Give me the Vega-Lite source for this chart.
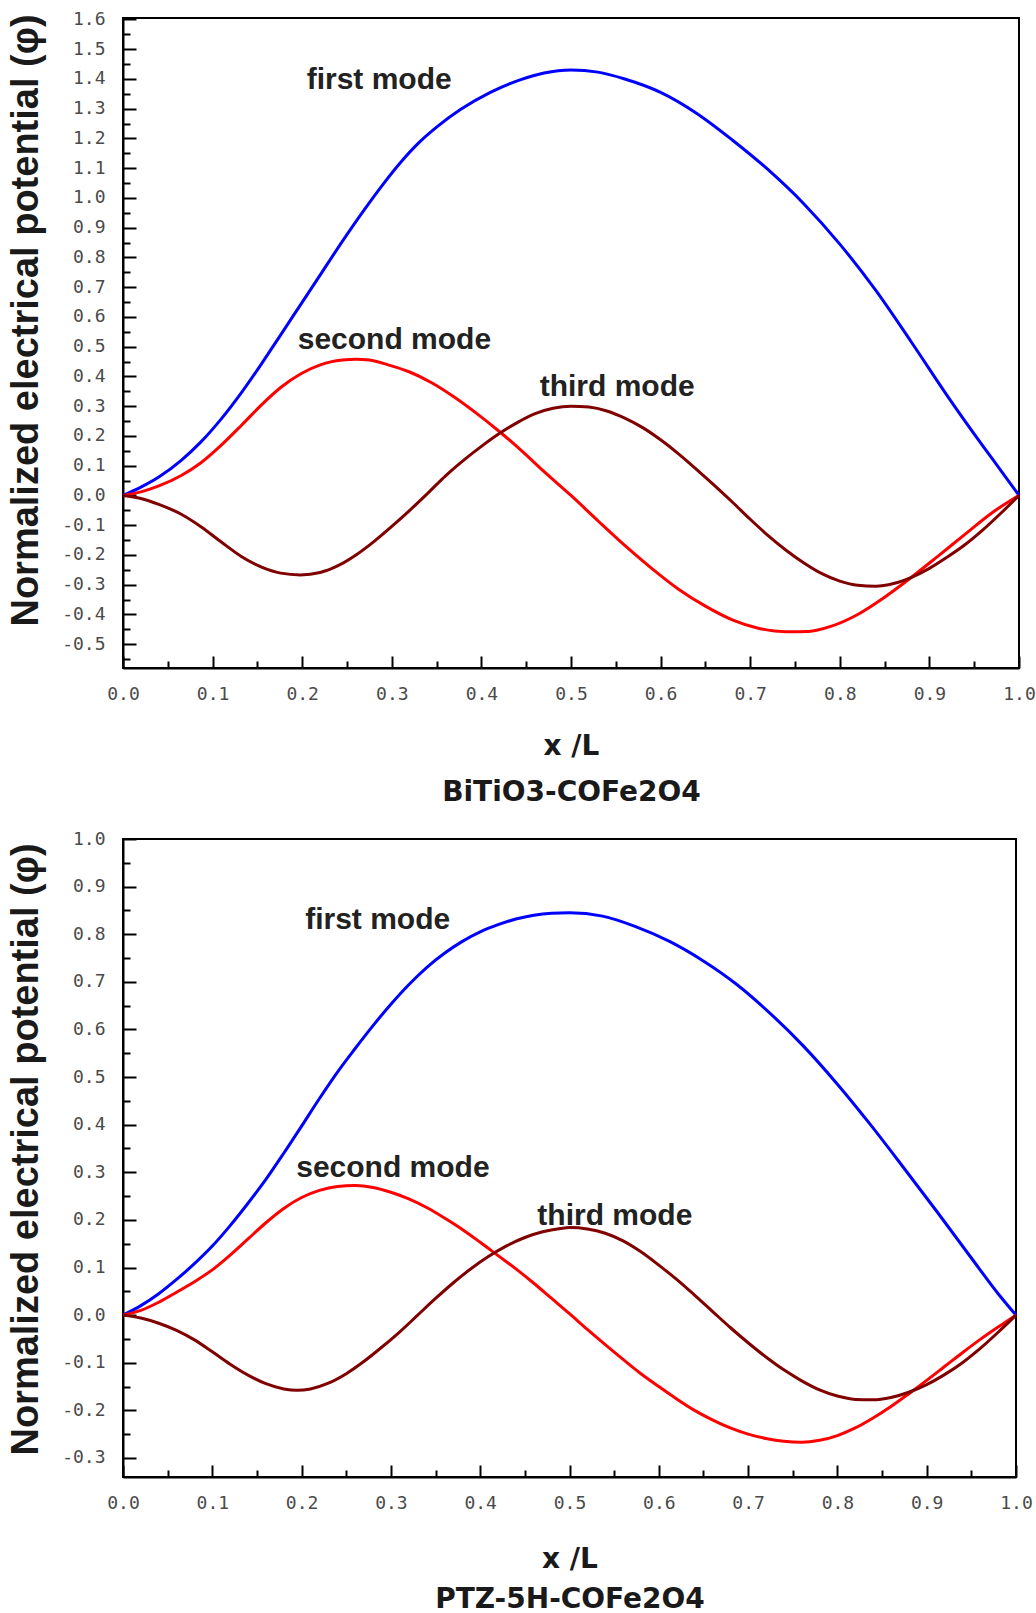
{
  "$schema": "https://vega.github.io/schema/vega-lite/v6.json",
  "background": "white",
  "padding": {"left": 6, "top": 9, "right": 0, "bottom": 0},
  "config": {
    "view": {"stroke": "black", "strokeWidth": 2},
    "concat": {"spacing": 22},
    "axis": {
      "grid": false,
      "domainColor": "black",
      "domainWidth": 2,
      "tickColor": "black",
      "tickWidth": 2,
      "labelFont": "DejaVu Sans Mono",
      "labelFontSize": 18,
      "labelColor": "#4a4a4a",
      "labelOverlap": false,
      "labelFlush": false,
      "titleFont": "Liberation Sans",
      "titleFontWeight": "bold",
      "titleColor": "#1a1a1a"
    }
  },
  "datasets": {
    "top": [
      {"x":0,"v":0,"m":"first"},{"x":0.02,"v":0.028,"m":"first"},{"x":0.04,"v":0.062,"m":"first"},{"x":0.065,"v":0.118,"m":"first"},{"x":0.087,"v":0.18,"m":"first"},{"x":0.109,"v":0.255,"m":"first"},{"x":0.132,"v":0.345,"m":"first"},{"x":0.154,"v":0.44,"m":"first"},{"x":0.176,"v":0.54,"m":"first"},{"x":0.199,"v":0.645,"m":"first"},{"x":0.222,"v":0.75,"m":"first"},{"x":0.245,"v":0.855,"m":"first"},{"x":0.268,"v":0.955,"m":"first"},{"x":0.29,"v":1.045,"m":"first"},{"x":0.31,"v":1.12,"m":"first"},{"x":0.33,"v":1.185,"m":"first"},{"x":0.35,"v":1.238,"m":"first"},{"x":0.377,"v":1.298,"m":"first"},{"x":0.41,"v":1.355,"m":"first"},{"x":0.444,"v":1.398,"m":"first"},{"x":0.47,"v":1.42,"m":"first"},{"x":0.5,"v":1.43,"m":"first"},{"x":0.53,"v":1.423,"m":"first"},{"x":0.56,"v":1.4,"m":"first"},{"x":0.6,"v":1.355,"m":"first"},{"x":0.64,"v":1.285,"m":"first"},{"x":0.68,"v":1.195,"m":"first"},{"x":0.72,"v":1.095,"m":"first"},{"x":0.76,"v":0.98,"m":"first"},{"x":0.8,"v":0.845,"m":"first"},{"x":0.84,"v":0.69,"m":"first"},{"x":0.88,"v":0.515,"m":"first"},{"x":0.92,"v":0.335,"m":"first"},{"x":0.96,"v":0.165,"m":"first"},{"x":0.98,"v":0.083,"m":"first"},{"x":1,"v":0,"m":"first"},
      {"x":0,"v":0,"m":"second"},{"x":0.02,"v":0.012,"m":"second"},{"x":0.04,"v":0.032,"m":"second"},{"x":0.065,"v":0.067,"m":"second"},{"x":0.087,"v":0.11,"m":"second"},{"x":0.11,"v":0.17,"m":"second"},{"x":0.132,"v":0.235,"m":"second"},{"x":0.154,"v":0.303,"m":"second"},{"x":0.176,"v":0.363,"m":"second"},{"x":0.199,"v":0.41,"m":"second"},{"x":0.221,"v":0.44,"m":"second"},{"x":0.245,"v":0.455,"m":"second"},{"x":0.26,"v":0.458,"m":"second"},{"x":0.275,"v":0.455,"m":"second"},{"x":0.295,"v":0.44,"m":"second"},{"x":0.32,"v":0.415,"m":"second"},{"x":0.345,"v":0.378,"m":"second"},{"x":0.37,"v":0.33,"m":"second"},{"x":0.395,"v":0.275,"m":"second"},{"x":0.42,"v":0.215,"m":"second"},{"x":0.445,"v":0.15,"m":"second"},{"x":0.47,"v":0.08,"m":"second"},{"x":0.5,"v":0,"m":"second"},{"x":0.53,"v":-0.085,"m":"second"},{"x":0.56,"v":-0.168,"m":"second"},{"x":0.59,"v":-0.245,"m":"second"},{"x":0.62,"v":-0.315,"m":"second"},{"x":0.65,"v":-0.372,"m":"second"},{"x":0.68,"v":-0.418,"m":"second"},{"x":0.71,"v":-0.447,"m":"second"},{"x":0.74,"v":-0.458,"m":"second"},{"x":0.765,"v":-0.457,"m":"second"},{"x":0.79,"v":-0.44,"m":"second"},{"x":0.82,"v":-0.4,"m":"second"},{"x":0.85,"v":-0.342,"m":"second"},{"x":0.88,"v":-0.275,"m":"second"},{"x":0.91,"v":-0.203,"m":"second"},{"x":0.94,"v":-0.13,"m":"second"},{"x":0.97,"v":-0.058,"m":"second"},{"x":1,"v":0,"m":"second"},
      {"x":0,"v":0,"m":"third"},{"x":0.02,"v":-0.01,"m":"third"},{"x":0.04,"v":-0.03,"m":"third"},{"x":0.065,"v":-0.063,"m":"third"},{"x":0.087,"v":-0.105,"m":"third"},{"x":0.109,"v":-0.155,"m":"third"},{"x":0.132,"v":-0.205,"m":"third"},{"x":0.154,"v":-0.24,"m":"third"},{"x":0.176,"v":-0.261,"m":"third"},{"x":0.198,"v":-0.267,"m":"third"},{"x":0.22,"v":-0.259,"m":"third"},{"x":0.24,"v":-0.236,"m":"third"},{"x":0.26,"v":-0.2,"m":"third"},{"x":0.28,"v":-0.155,"m":"third"},{"x":0.3,"v":-0.104,"m":"third"},{"x":0.32,"v":-0.05,"m":"third"},{"x":0.34,"v":0.007,"m":"third"},{"x":0.36,"v":0.066,"m":"third"},{"x":0.38,"v":0.118,"m":"third"},{"x":0.4,"v":0.165,"m":"third"},{"x":0.42,"v":0.208,"m":"third"},{"x":0.44,"v":0.245,"m":"third"},{"x":0.46,"v":0.275,"m":"third"},{"x":0.48,"v":0.293,"m":"third"},{"x":0.5,"v":0.3,"m":"third"},{"x":0.52,"v":0.297,"m":"third"},{"x":0.54,"v":0.284,"m":"third"},{"x":0.56,"v":0.26,"m":"third"},{"x":0.58,"v":0.228,"m":"third"},{"x":0.6,"v":0.187,"m":"third"},{"x":0.62,"v":0.14,"m":"third"},{"x":0.64,"v":0.088,"m":"third"},{"x":0.66,"v":0.034,"m":"third"},{"x":0.68,"v":-0.022,"m":"third"},{"x":0.7,"v":-0.08,"m":"third"},{"x":0.72,"v":-0.135,"m":"third"},{"x":0.74,"v":-0.184,"m":"third"},{"x":0.76,"v":-0.227,"m":"third"},{"x":0.78,"v":-0.263,"m":"third"},{"x":0.8,"v":-0.288,"m":"third"},{"x":0.82,"v":-0.302,"m":"third"},{"x":0.84,"v":-0.305,"m":"third"},{"x":0.86,"v":-0.296,"m":"third"},{"x":0.88,"v":-0.275,"m":"third"},{"x":0.9,"v":-0.245,"m":"third"},{"x":0.92,"v":-0.207,"m":"third"},{"x":0.94,"v":-0.165,"m":"third"},{"x":0.96,"v":-0.115,"m":"third"},{"x":0.98,"v":-0.059,"m":"third"},{"x":1,"v":0,"m":"third"}
    ],
    "topLabels": [
      {"x":0.205,"v":1.397,"t":"first mode"},
      {"x":0.195,"v":0.524,"t":"second mode"},
      {"x":0.465,"v":0.364,"t":"third mode"}
    ],
    "bottom": [
      {"x":0,"v":0,"m":"first"},{"x":0.02,"v":0.02,"m":"first"},{"x":0.04,"v":0.045,"m":"first"},{"x":0.06,"v":0.075,"m":"first"},{"x":0.08,"v":0.108,"m":"first"},{"x":0.1,"v":0.145,"m":"first"},{"x":0.12,"v":0.188,"m":"first"},{"x":0.14,"v":0.235,"m":"first"},{"x":0.16,"v":0.285,"m":"first"},{"x":0.18,"v":0.34,"m":"first"},{"x":0.2,"v":0.397,"m":"first"},{"x":0.22,"v":0.455,"m":"first"},{"x":0.24,"v":0.51,"m":"first"},{"x":0.26,"v":0.56,"m":"first"},{"x":0.28,"v":0.608,"m":"first"},{"x":0.3,"v":0.653,"m":"first"},{"x":0.32,"v":0.694,"m":"first"},{"x":0.34,"v":0.73,"m":"first"},{"x":0.36,"v":0.76,"m":"first"},{"x":0.38,"v":0.785,"m":"first"},{"x":0.4,"v":0.805,"m":"first"},{"x":0.42,"v":0.82,"m":"first"},{"x":0.44,"v":0.832,"m":"first"},{"x":0.46,"v":0.84,"m":"first"},{"x":0.48,"v":0.844,"m":"first"},{"x":0.5,"v":0.845,"m":"first"},{"x":0.537,"v":0.838,"m":"first"},{"x":0.574,"v":0.816,"m":"first"},{"x":0.612,"v":0.785,"m":"first"},{"x":0.649,"v":0.745,"m":"first"},{"x":0.687,"v":0.695,"m":"first"},{"x":0.724,"v":0.635,"m":"first"},{"x":0.762,"v":0.565,"m":"first"},{"x":0.8,"v":0.485,"m":"first"},{"x":0.837,"v":0.4,"m":"first"},{"x":0.874,"v":0.31,"m":"first"},{"x":0.912,"v":0.216,"m":"first"},{"x":0.95,"v":0.12,"m":"first"},{"x":0.98,"v":0.045,"m":"first"},{"x":1,"v":0,"m":"first"},
      {"x":0,"v":0,"m":"second"},{"x":0.02,"v":0.01,"m":"second"},{"x":0.04,"v":0.027,"m":"second"},{"x":0.06,"v":0.048,"m":"second"},{"x":0.08,"v":0.07,"m":"second"},{"x":0.1,"v":0.095,"m":"second"},{"x":0.12,"v":0.126,"m":"second"},{"x":0.14,"v":0.16,"m":"second"},{"x":0.16,"v":0.194,"m":"second"},{"x":0.18,"v":0.224,"m":"second"},{"x":0.2,"v":0.247,"m":"second"},{"x":0.22,"v":0.262,"m":"second"},{"x":0.24,"v":0.27,"m":"second"},{"x":0.26,"v":0.272,"m":"second"},{"x":0.28,"v":0.268,"m":"second"},{"x":0.3,"v":0.258,"m":"second"},{"x":0.32,"v":0.244,"m":"second"},{"x":0.34,"v":0.226,"m":"second"},{"x":0.36,"v":0.204,"m":"second"},{"x":0.38,"v":0.18,"m":"second"},{"x":0.4,"v":0.153,"m":"second"},{"x":0.42,"v":0.125,"m":"second"},{"x":0.44,"v":0.097,"m":"second"},{"x":0.46,"v":0.067,"m":"second"},{"x":0.48,"v":0.035,"m":"second"},{"x":0.5,"v":0.003,"m":"second"},{"x":0.52,"v":-0.03,"m":"second"},{"x":0.54,"v":-0.062,"m":"second"},{"x":0.56,"v":-0.093,"m":"second"},{"x":0.58,"v":-0.123,"m":"second"},{"x":0.6,"v":-0.15,"m":"second"},{"x":0.62,"v":-0.176,"m":"second"},{"x":0.64,"v":-0.2,"m":"second"},{"x":0.66,"v":-0.22,"m":"second"},{"x":0.68,"v":-0.237,"m":"second"},{"x":0.7,"v":-0.25,"m":"second"},{"x":0.72,"v":-0.259,"m":"second"},{"x":0.74,"v":-0.265,"m":"second"},{"x":0.76,"v":-0.267,"m":"second"},{"x":0.78,"v":-0.263,"m":"second"},{"x":0.8,"v":-0.253,"m":"second"},{"x":0.82,"v":-0.237,"m":"second"},{"x":0.84,"v":-0.216,"m":"second"},{"x":0.86,"v":-0.192,"m":"second"},{"x":0.88,"v":-0.165,"m":"second"},{"x":0.9,"v":-0.137,"m":"second"},{"x":0.92,"v":-0.108,"m":"second"},{"x":0.94,"v":-0.079,"m":"second"},{"x":0.96,"v":-0.051,"m":"second"},{"x":0.98,"v":-0.025,"m":"second"},{"x":1,"v":0,"m":"second"},
      {"x":0,"v":0,"m":"third"},{"x":0.02,"v":-0.006,"m":"third"},{"x":0.04,"v":-0.017,"m":"third"},{"x":0.06,"v":-0.032,"m":"third"},{"x":0.08,"v":-0.052,"m":"third"},{"x":0.1,"v":-0.077,"m":"third"},{"x":0.12,"v":-0.103,"m":"third"},{"x":0.14,"v":-0.126,"m":"third"},{"x":0.16,"v":-0.144,"m":"third"},{"x":0.18,"v":-0.155,"m":"third"},{"x":0.195,"v":-0.158,"m":"third"},{"x":0.21,"v":-0.155,"m":"third"},{"x":0.23,"v":-0.143,"m":"third"},{"x":0.25,"v":-0.123,"m":"third"},{"x":0.27,"v":-0.097,"m":"third"},{"x":0.29,"v":-0.067,"m":"third"},{"x":0.31,"v":-0.035,"m":"third"},{"x":0.33,"v":0,"m":"third"},{"x":0.35,"v":0.035,"m":"third"},{"x":0.37,"v":0.068,"m":"third"},{"x":0.39,"v":0.098,"m":"third"},{"x":0.41,"v":0.124,"m":"third"},{"x":0.43,"v":0.146,"m":"third"},{"x":0.45,"v":0.163,"m":"third"},{"x":0.47,"v":0.175,"m":"third"},{"x":0.49,"v":0.182,"m":"third"},{"x":0.5,"v":0.184,"m":"third"},{"x":0.52,"v":0.181,"m":"third"},{"x":0.54,"v":0.172,"m":"third"},{"x":0.56,"v":0.156,"m":"third"},{"x":0.58,"v":0.133,"m":"third"},{"x":0.6,"v":0.105,"m":"third"},{"x":0.62,"v":0.075,"m":"third"},{"x":0.64,"v":0.042,"m":"third"},{"x":0.66,"v":0.008,"m":"third"},{"x":0.68,"v":-0.026,"m":"third"},{"x":0.7,"v":-0.058,"m":"third"},{"x":0.72,"v":-0.088,"m":"third"},{"x":0.74,"v":-0.115,"m":"third"},{"x":0.76,"v":-0.138,"m":"third"},{"x":0.78,"v":-0.157,"m":"third"},{"x":0.8,"v":-0.17,"m":"third"},{"x":0.82,"v":-0.177,"m":"third"},{"x":0.84,"v":-0.178,"m":"third"},{"x":0.86,"v":-0.173,"m":"third"},{"x":0.88,"v":-0.162,"m":"third"},{"x":0.9,"v":-0.146,"m":"third"},{"x":0.92,"v":-0.125,"m":"third"},{"x":0.94,"v":-0.1,"m":"third"},{"x":0.96,"v":-0.07,"m":"third"},{"x":0.98,"v":-0.036,"m":"third"},{"x":1,"v":0,"m":"third"}
    ],
    "bottomLabels": [
      {"x":0.204,"v":0.83,"t":"first mode"},
      {"x":0.194,"v":0.309,"t":"second mode"},
      {"x":0.464,"v":0.209,"t":"third mode"}
    ]
  },
  "vconcat": [
    {
      "width": 896,
      "height": 650,
      "resolve": {"axis": {"x": "independent", "y": "independent"}},
      "layer": [
        {
          "data": {"name": "top"},
          "mark": {"type": "line", "strokeWidth": 3, "interpolate": "monotone"},
          "encoding": {
            "x": {"field": "x", "type": "quantitative", "scale": {"domain": [0, 1], "nice": false, "zero": false},
              "axis": {"orient": "bottom", "values": [0,0.1,0.2,0.3,0.4,0.5,0.6,0.7,0.8,0.9,1.0], "labelExpr": "format(datum.value, '.1f')", "tickSize": -12, "labelPadding": 29, "title": ["x /L", "BiTiO3-COFe2O4"], "titleFont": "DejaVu Sans", "titleFontSize": 28, "titleLineHeight": 46, "titlePadding": 29}},
            "y": {"field": "v", "type": "quantitative", "scale": {"domain": [-0.58, 1.605], "nice": false, "zero": false},
              "axis": {"orient": "left", "values": [-0.5,-0.4,-0.3,-0.2,-0.1,0,0.1,0.2,0.3,0.4,0.5,0.6,0.7,0.8,0.9,1.0,1.1,1.2,1.3,1.4,1.5,1.6], "labelExpr": "replace(format(datum.value, '.1f'), '\u2212', '-')", "tickSize": -13, "labelPadding": 31, "title": "Normalized electrical potential (φ)", "titleFontSize": 38, "titlePadding": 16, "titleY": 302}},
            "color": {"field": "m", "type": "nominal", "scale": {"domain": ["first", "second", "third"], "range": ["#0000ff", "#ff0000", "#800000"]}, "legend": null}
          }
        },
        {
          "data": {"name": "topLabels"},
          "mark": {"type": "text", "align": "left", "baseline": "middle", "font": "Liberation Sans", "fontWeight": "bold", "fontSize": 30, "color": "#222222"},
          "encoding": {
            "x": {"field": "x", "type": "quantitative",
              "axis": {"orient": "bottom", "values": [0.05,0.15,0.25,0.35,0.45,0.55,0.65,0.75,0.85,0.95], "labels": false, "domain": false, "tickSize": -7, "title": null}},
            "y": {"field": "v", "type": "quantitative",
              "axis": {"orient": "left", "values": [-0.55,-0.45,-0.35,-0.25,-0.15,-0.05,0.05,0.15,0.25,0.35,0.45,0.55,0.65,0.75,0.85,0.95,1.05,1.15,1.25,1.35,1.45,1.55], "labels": false, "domain": false, "tickSize": -7, "title": null}},
            "text": {"field": "t"}
          }
        }
      ]
    },
    {
      "width": 893,
      "height": 638,
      "resolve": {"axis": {"x": "independent", "y": "independent"}},
      "layer": [
        {
          "data": {"name": "bottom"},
          "mark": {"type": "line", "strokeWidth": 3, "interpolate": "monotone"},
          "encoding": {
            "x": {"field": "x", "type": "quantitative", "scale": {"domain": [0, 1], "nice": false, "zero": false},
              "axis": {"orient": "bottom", "values": [0,0.1,0.2,0.3,0.4,0.5,0.6,0.7,0.8,0.9,1.0], "labelExpr": "format(datum.value, '.1f')", "tickSize": -12, "labelPadding": 29, "title": ["x /L", "PTZ-5H-COFe2O4"], "titleFont": "DejaVu Sans", "titleFontSize": 28, "titleLineHeight": 40, "titlePadding": 33}},
            "y": {"field": "v", "type": "quantitative", "scale": {"domain": [-0.34, 1.0], "nice": false, "zero": false},
              "axis": {"orient": "left", "values": [-0.3,-0.2,-0.1,0,0.1,0.2,0.3,0.4,0.5,0.6,0.7,0.8,0.9,1.0], "labelExpr": "replace(format(datum.value, '.1f'), '\u2212', '-')", "tickSize": -13, "labelPadding": 31, "title": "Normalized electrical potential (φ)", "titleFontSize": 38, "titlePadding": 16, "titleY": 310}},
            "color": {"field": "m", "type": "nominal", "scale": {"domain": ["first", "second", "third"], "range": ["#0000ff", "#ff0000", "#800000"]}, "legend": null}
          }
        },
        {
          "data": {"name": "bottomLabels"},
          "mark": {"type": "text", "align": "left", "baseline": "middle", "font": "Liberation Sans", "fontWeight": "bold", "fontSize": 30, "color": "#222222"},
          "encoding": {
            "x": {"field": "x", "type": "quantitative",
              "axis": {"orient": "bottom", "values": [0.05,0.15,0.25,0.35,0.45,0.55,0.65,0.75,0.85,0.95], "labels": false, "domain": false, "tickSize": -7, "title": null}},
            "y": {"field": "v", "type": "quantitative",
              "axis": {"orient": "left", "values": [-0.25,-0.15,-0.05,0.05,0.15,0.25,0.35,0.45,0.55,0.65,0.75,0.85,0.95], "labels": false, "domain": false, "tickSize": -7, "title": null}},
            "text": {"field": "t"}
          }
        }
      ]
    }
  ]
}
